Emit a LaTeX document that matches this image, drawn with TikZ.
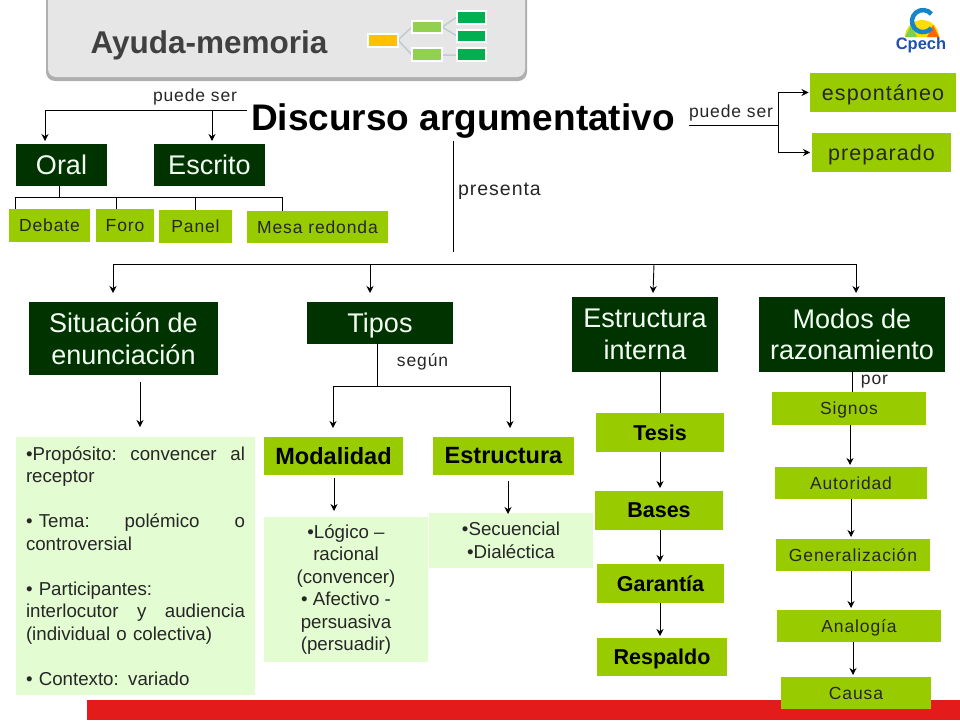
\documentclass[tikz,border=0pt]{standalone}
\usepackage{fontspec}
\setmainfont{Liberation Sans}
\newfontface\spaced[LetterSpace=5]{Liberation Sans}
\usetikzlibrary{arrows.meta,calc}
\definecolor{dkgreen}{HTML}{003300}
\definecolor{ltgreen}{HTML}{99CC00}
\definecolor{pale}{HTML}{E3FCD2}
\definecolor{redband}{HTML}{E31B1B}
\definecolor{headfill}{HTML}{E6E6E6}
\definecolor{headline}{HTML}{8C8C8C}
\definecolor{headtext}{HTML}{404040}
\definecolor{cpblue}{HTML}{1F4FB0}
\definecolor{mOrange}{HTML}{FFC000}
\definecolor{mLight}{HTML}{92D050}
\definecolor{mDark}{HTML}{00B050}
\newcommand{\fs}[2]{\fontsize{#1}{#2}\selectfont}
\newcommand{\bx}[7][]{%
  \pgfmathsetmacro{\cxv}{(#3+#5)/2}%
  \pgfmathsetmacro{\cyv}{(#4+#6)/2}%
  \pgfmathsetmacro{\wv}{#5-#3}%
  \pgfmathsetmacro{\hv}{#6-#4}%
  \node[#1,minimum width=\wv pt,minimum height=\hv pt] (#2) at (\cxv,\cyv) {#7};}
\tikzset{
  base/.style={inner sep=0pt,align=center,outer sep=0pt},
  dark/.style={base,fill=dkgreen,text=green!5!white,font=\fs{27}{31.5}},
  bold/.style={base,fill=ltgreen,text=black,font=\bfseries\fs{21.5}{26}},
  boldwide/.style={base,fill=ltgreen,text=black,font=\bfseries\fs{23.5}{26}},
  small/.style={base,fill=ltgreen,text=black!85,font=\spaced\fs{17.5}{20}},
  big/.style={base,fill=ltgreen,text=black!85,font=\spaced\fs{21.5}{24}},
  palebox/.style={base,fill=pale,text=black!85,font=\fs{18.7}{22.5}},
  lab/.style={inner sep=0pt,outer sep=0pt,text=black!85,font=\spaced\fs{17.5}{20}},
  ln/.style={draw=black,line width=0.9pt},
  arr/.style={ln,-{Stealth[length=7pt,width=7pt]}},
  nodepth/.style={text depth=0pt},
}
\begin{document}
\begin{tikzpicture}[x=1pt,y=-1pt]
\useasboundingbox (0,0) rectangle (960,720);
\clip (0,0) rectangle (960,720);
% header
\path[fill=headline!70,rounded corners=9pt] (46,-12) rectangle (527,81);
\path[fill=headfill,rounded corners=8pt] (48,-12) rectangle (525,77);
\node[inner sep=0pt,text=headtext,font=\bfseries\fs{31.5}{34}] (ayuda) at (209,45) {Ayuda-memoria};
% mini diagram
\draw[line width=1.5pt,draw=cyan!20!gray!50] (398,40) -- (412,27) (398,40) -- (412,55) (442,27) -- (457,17) (442,27) -- (457,36) (442,55) -- (457,55);
\fill[fill=mOrange,draw=white,line width=2pt] (368,34) rectangle (398,47);
\fill[fill=mLight,draw=white,line width=2pt] (412,21) rectangle (442,33);
\fill[fill=mLight,draw=white,line width=2pt] (412,48) rectangle (442,61);
\fill[fill=mDark,draw=white,line width=2pt] (457,11) rectangle (486,24);
\fill[fill=mDark,draw=white,line width=2pt] (457,30) rectangle (486,42);
\fill[fill=mDark,draw=white,line width=2pt] (457,48) rectangle (486,61);
% Cpech logo
\fill[yellow!80!orange] (905,37) arc[start angle=180,end angle=360,radius=17] -- cycle;
\fill[green!50!olive!70] (905,37) -- (911,25) -- (917,37) -- cycle;
\fill[orange!80!red] (939,37) -- (933,25) -- (927,37) -- cycle;
\draw[cpblue!70!cyan,line width=4.5pt] (931.4,14) arc[start angle=320,end angle=40,radius=11];
\node[inner sep=0pt,text=cpblue,font=\bfseries\fs{16.5}{18}] (cpech) at (921,45) {Cpech};
% red band (under the last box)
\fill[redband] (87,700) rectangle (960,720);
% title
\node[inner sep=0pt,text=black,font=\bfseries\fs{37}{40}] (title) at (463,121) {Discurso argumentativo};
% boxes
\bx[dark]{oral}{16}{144}{107}{186}{Oral}
\bx[dark]{escrito}{154}{144}{265}{186}{Escrito}
\bx[small]{debate}{9}{209}{90}{242}{Debate}
\bx[small]{foro}{96}{209}{154}{242}{Foro}
\bx[small]{panel}{159}{210}{232}{243}{Panel}
\bx[small]{mesa}{247}{211}{388}{243}{Mesa redonda}
\bx[big,nodepth]{espon}{810}{73}{956}{112}{espontáneo}
\bx[big,nodepth]{prep}{812}{133}{951}{172}{preparado}
\bx[dark]{sit}{29}{302}{218}{375}{Situación de\\enunciación}
\bx[dark,nodepth]{tipos}{307}{302}{453}{344}{Tipos}
\bx[dark]{estint}{572}{297}{718}{372}{Estructura\\interna}
\bx[dark]{modos}{759}{297}{945}{372}{Modos de\\razonamiento}
\bx[boldwide]{modal}{264}{437}{403}{475}{Modalidad}
\bx[boldwide]{estr}{433}{437}{574}{475}{Estructura}
\bx[bold]{tesis}{596}{413}{724}{452}{Tesis}
\bx[bold]{bases}{595}{491}{723}{530}{Bases}
\bx[bold]{garan}{597}{564}{724}{603}{Garantía}
\bx[bold,nodepth]{resp}{597}{638}{727}{676}{Respaldo}
\bx[small,nodepth]{signos}{772}{392}{926}{425}{Signos}
\bx[small]{autor}{775}{467}{927}{499}{Autoridad}
\bx[small]{gener}{776}{539}{930}{571}{Generalización}
\bx[small,nodepth]{analog}{777}{610}{941}{642}{Analogía}
\bx[small]{causa}{781}{677}{931}{709}{Causa}
\bx[palebox,align=left,text width=219pt]{prop}{16}{437}{255}{695}{%
•Propósito:\hfill convencer\hfill al\\
receptor\\[22.5pt]
• Tema:\hfill polémico\hfill o\\
controversial\\[22.5pt]
• Participantes:\\
interlocutor\hfill y\hfill audiencia\\
(individual o colectiva)\\[22.5pt]
• Contexto: variado}
\bx[palebox]{logico}{264}{517}{428}{662}{•Lógico –\\racional\\(convencer)\\• Afectivo -\\persuasiva\\(persuadir)}
\bx[palebox]{secu}{429}{513}{593}{568}{•Secuencial\\•Dialéctica}
% labels
\node[lab] (l1) at (195,97) {puede ser};
\node[lab] (l2) at (731,113) {puede ser};
\node[lab,font=\spaced\fs{19.5}{20}] (l3) at (499.5,191) {presenta};
\node[lab] (l4) at (422.5,362) {según};
\node[lab] (l5) at (874.5,382) {por};
% top-left connectors
\coordinate (tl) at (247,110);
\coordinate (tlc) at (45,110);
\coordinate (tlm) at (212,110);
\coordinate (oralin) at (45,141);
\coordinate (escin) at (212,141);
\draw[arr] (tl) -- (tlc) -- (oralin);
\draw[arr] (tlm) -- (escin);
% oral tree
\coordinate (ot) at (59,197);
\coordinate (ol) at (15.5,197);
\coordinate (or) at (282,197);
\coordinate (of) at (116,197);
\coordinate (op) at (195,197);
\draw[ln] (oral.south -| ot) -- (ot);
\draw[ln] (ol |- debate.north) -- (ol) -- (or) -- (or |- mesa.north);
\draw[ln] (of) -- (of |- foro.north);
\draw[ln] (op) -- (op |- panel.north);
% right top
\coordinate (rs) at (689,125);
\coordinate (rm) at (778,125);
\coordinate (rt) at (778,92.5);
\coordinate (rb) at (778,152.5);
\draw[ln] (rs) -- (rm);
\draw[arr,shorten >=1.5pt] (rm) -- (rt) -- (espon.west);
\draw[arr,shorten >=2pt] (rm) -- (rb) -- (prep.west);
% presenta
\coordinate (ps) at (453,141);
\coordinate (pe) at (453,252);
\draw[ln] (ps) -- (pe);
\coordinate (b1) at (113,264);
\coordinate (b2) at (856,264);
\draw[ln] (b1) -- (b2);
\coordinate (a1) at (113,293);
\coordinate (a2) at (370,293);
\coordinate (a3) at (653,293);
\coordinate (a4) at (856,293);
\draw[arr] (b1) -- (a1);
\draw[arr] (370,264) -- (a2);
\draw[arr] (654,264) -- (a3);
\draw[arr] (b2) -- (a4);
% situacion
\coordinate (s1) at (140,382);
\coordinate (s2) at (140,427);
\draw[arr] (s1) -- (s2);
% tipos
\coordinate (t1) at (377,386);
\coordinate (tl2) at (333,386);
\coordinate (tr2) at (510,386);
\draw[ln] (tipos.south -| t1) -- (t1);
\draw[arr] (t1) -- (tl2) -- (333,428);
\draw[arr] (t1) -- (tr2) -- (510,428);
\coordinate (m1) at (334,478);
\coordinate (m2) at (334,511);
\draw[arr] (m1) -- (m2);
\coordinate (e1) at (508,481);
\coordinate (e2) at (508,514);
\draw[arr] (e1) -- (e2);
% estructura interna chain
\coordinate (ei) at (660,371);
\draw[ln] (ei) -- (tesis.north -| ei);
\draw[arr] (tesis.south -| ei) -- (660,488);
\draw[arr] (bases.south -| ei) -- (660,562);
\draw[arr] (garan.south -| ei) -- (660,636);
% modos chain
\coordinate (mo) at (852,371);
\draw[ln] (mo) -- (signos.north -| mo);
\draw[arr] (850,425) -- (850,465);
\draw[arr] (851,499) -- (851,537);
\draw[arr] (851,571) -- (851,608);
\draw[arr] (853,642) -- (853,675);
\end{tikzpicture}
\end{document}
